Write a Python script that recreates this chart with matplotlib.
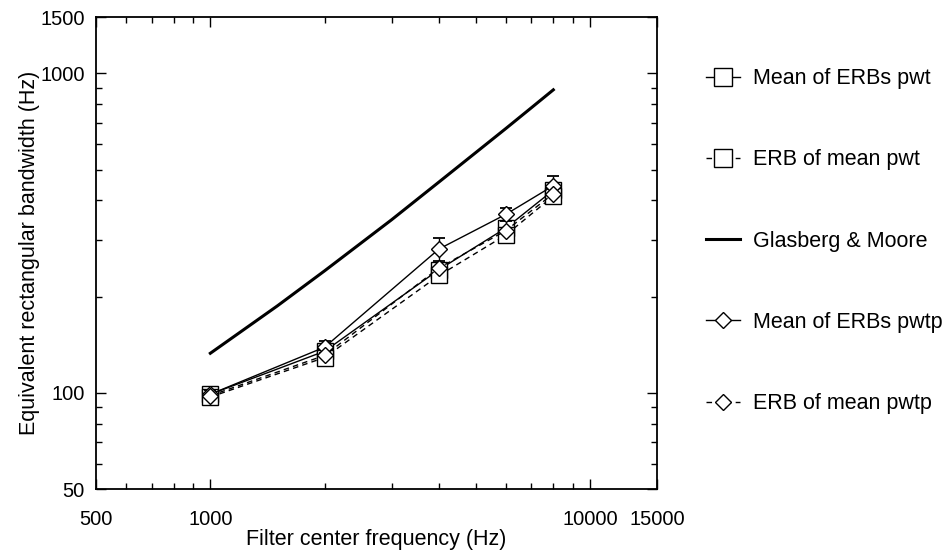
import numpy as np
import matplotlib
matplotlib.use("Agg")
import matplotlib.pyplot as plt
from matplotlib.ticker import NullFormatter, FixedLocator, FixedFormatter

plt.rcParams['font.family'] = ['Liberation Sans', 'DejaVu Sans']

# filter centre frequencies (Hz)
freqs = [1000, 2000, 4000, 6000, 8000]

# ERB estimates (Hz)
mean_erb_pwt = [99, 135, 243, 328, 431]
erb_mean_pwt = [97, 129, 233, 312, 413]
mean_erb_pwtp = [99, 139, 282, 362, 445]
erb_mean_pwtp = [98, 131, 246, 322, 420]
pwtp_err = [3, 6, 23, 16, 31]

# Glasberg & Moore curve
gm_freqs = [1000, 1500, 2000, 3000, 4000, 5000, 6000, 7000, 8000]
gm_erb = [133, 187, 241, 348, 457, 565, 672, 780, 888]

xticks = [500, 1000, 10000, 15000]
yticks = [50, 100, 1000, 1500]

fig = plt.figure(figsize=(9.46, 5.51), dpi=100)
ax = fig.add_axes([0.1015, 0.1125, 0.593, 0.8565])

ms_sq = 11.5
ms_dm = 7.8

ax.plot(freqs, mean_erb_pwt, 'k-', lw=1.0, marker='s', ms=ms_sq,
        mfc='white', mec='k', mew=1.0, label='Mean of ERBs pwt', zorder=3)
ax.plot(freqs, erb_mean_pwt, 'k', ls=(0, (4, 3)), lw=1.0, marker='s', ms=ms_sq,
        mfc='white', mec='k', mew=1.0, label='ERB of mean pwt', zorder=3)
ax.plot(gm_freqs, gm_erb, 'k-', lw=2.2, label='Glasberg & Moore', zorder=2)
ax.errorbar(freqs, mean_erb_pwtp, yerr=pwtp_err, fmt='none', ecolor='k',
            elinewidth=1.0, capsize=4.5, capthick=1.3, zorder=3)
ax.plot(freqs, mean_erb_pwtp, 'k-', lw=1.0, marker='D', ms=ms_dm,
        mfc='white', mec='k', mew=1.0, label='Mean of ERBs pwtp', zorder=4)
ax.plot(freqs, erb_mean_pwtp, 'k', ls=(0, (4, 3)), lw=1.0, marker='D', ms=ms_dm,
        mfc='white', mec='k', mew=1.0, label='ERB of mean pwtp', zorder=4)

ax.set_xscale('log')
ax.set_yscale('log')
ax.set_xlim(500, 15000)
ax.set_ylim(50, 1500)

ax.xaxis.set_major_locator(FixedLocator(xticks))
ax.xaxis.set_major_formatter(FixedFormatter([str(v) for v in xticks]))
ax.xaxis.set_minor_formatter(NullFormatter())
ax.yaxis.set_major_locator(FixedLocator(yticks))
ax.yaxis.set_major_formatter(FixedFormatter([str(v) for v in yticks]))
ax.yaxis.set_minor_formatter(NullFormatter())

ax.tick_params(which='both', direction='in', top=True, right=True,
               labelsize=14.5, width=1.0)
ax.tick_params(axis='x', which='both', pad=15)
ax.tick_params(axis='y', which='both', pad=8)
ax.tick_params(which='major', length=7)
ax.tick_params(which='minor', length=4)
for s in ax.spines.values():
    s.set_linewidth(1.3)

ax.set_xlabel('Filter center frequency (Hz)', fontsize=15.5, labelpad=0)
ax.set_ylabel('Equivalent rectangular bandwidth (Hz)', fontsize=15.5, labelpad=0)

ax.legend(loc='upper left', bbox_to_anchor=(1.072, 0.91), frameon=False,
          fontsize=15.5, labelspacing=2.8, handlelength=1.6, handletextpad=0.6,
          borderaxespad=0, markerscale=1.1)

fig.savefig('out.png', dpi=100)
